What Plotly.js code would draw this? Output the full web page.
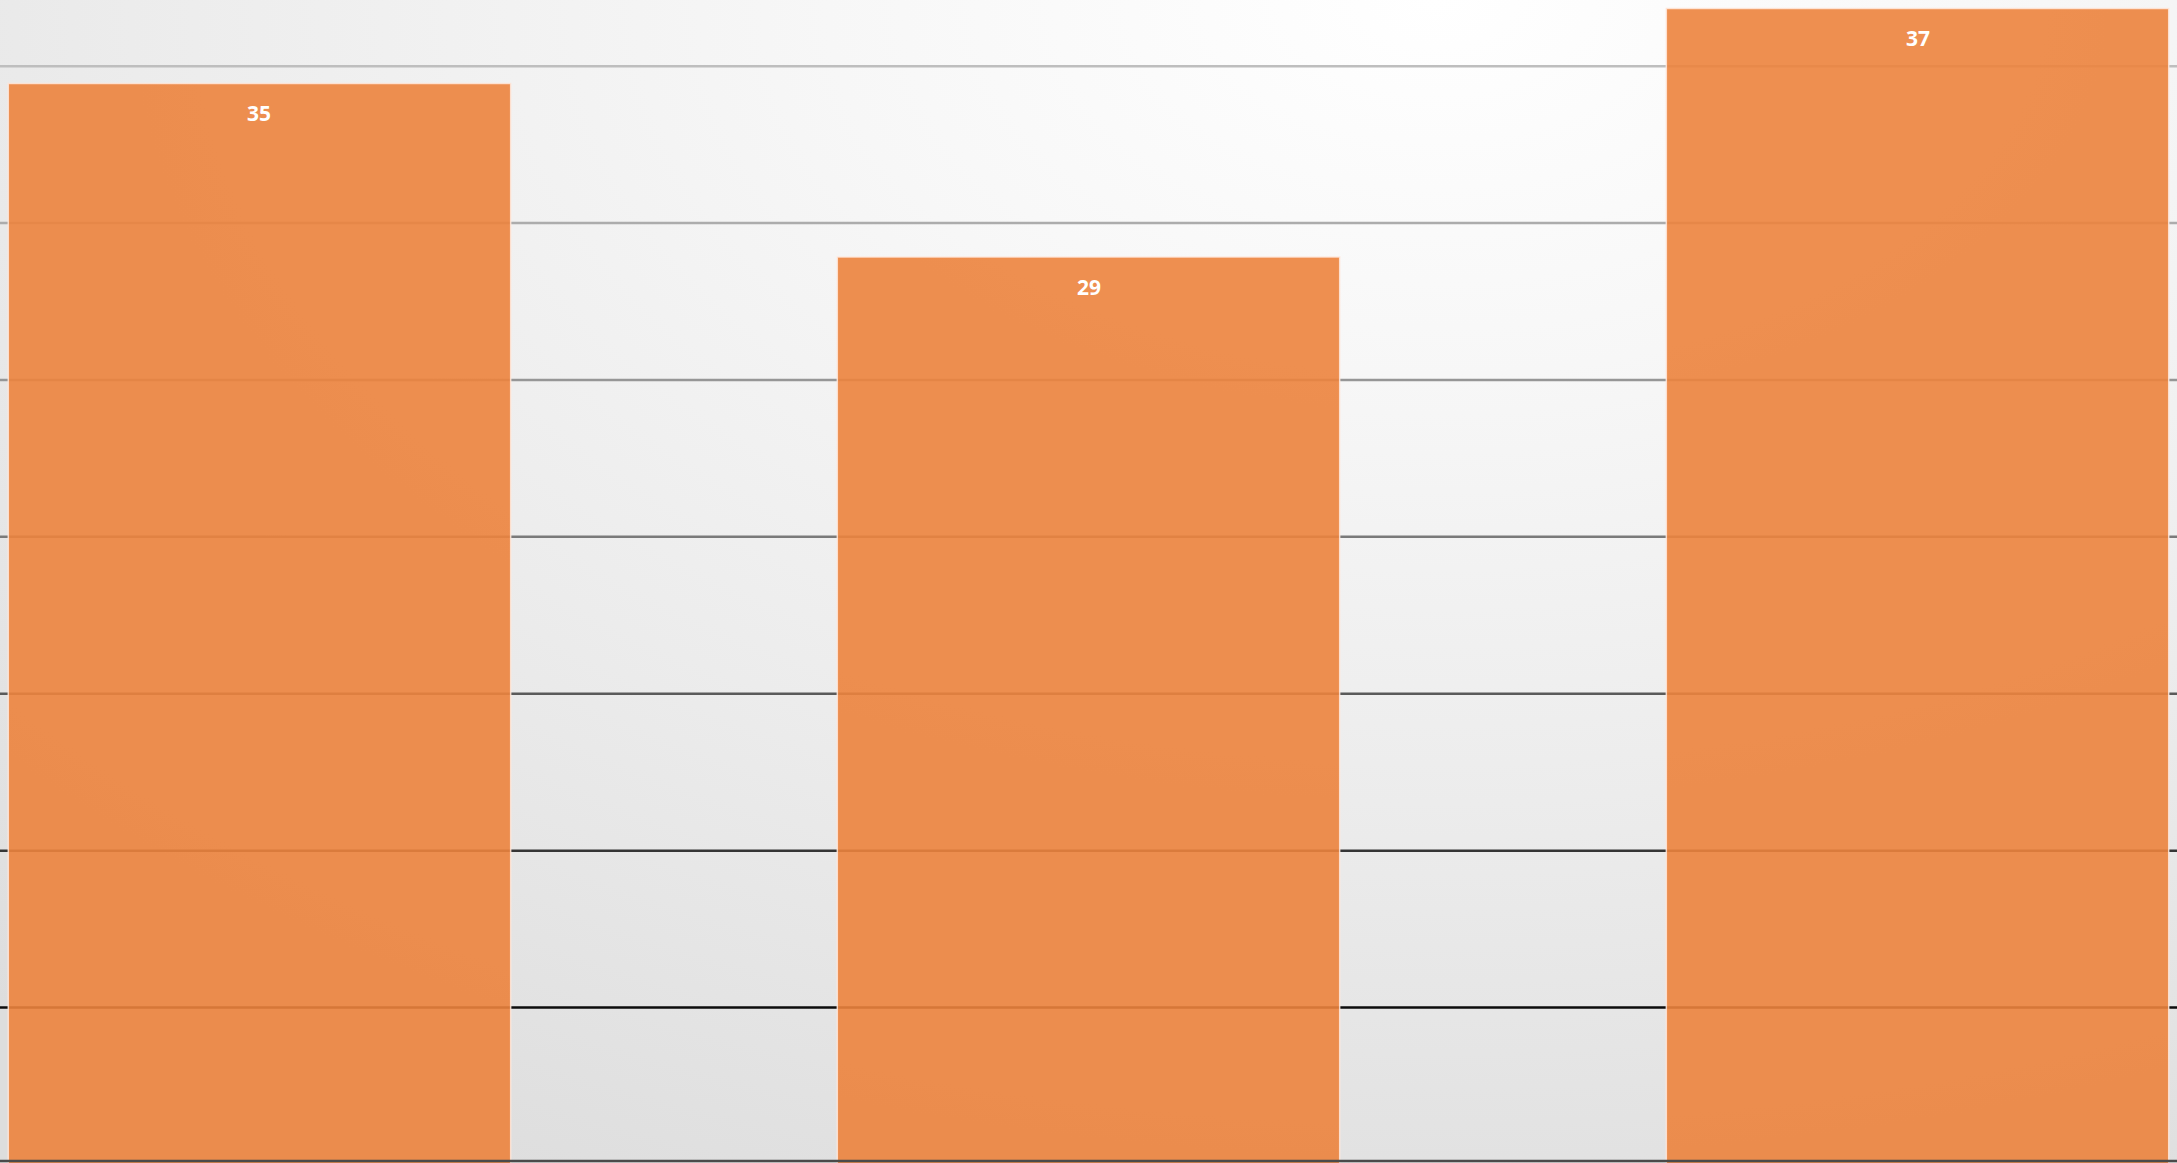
<!DOCTYPE html>
<html>
<head>
<meta charset="utf-8">
<script src="https://cdn.plot.ly/plotly-3.0.1.min.js"></script>
<style>
  html, body { margin: 0; padding: 0; overflow: hidden; }
  #chart {
    width: 2177px; height: 1163px;
    background: radial-gradient(ellipse 100% 115% at 66% 0%, #ffffff 0%, #f7f7f7 28%, #ececec 60%, #dddddd 100%);
  }
</style>
</head>
<body>
<div id="chart"></div>
<script>
// Data
const categories = ["A", "B", "C"];
const values = [34.45, 28.92, 36.84];
const labels = ["35", "29", "37"];
const gridValues = [5, 10, 15, 20, 25, 30, 35];
const gridColors = ["#0c0c0c", "#353535", "#5a5a5a", "#7a7a7a", "#969696", "#acacac", "#bebebe"];

const trace = {
  type: "bar",
  x: categories,
  y: values,
  marker: {
    color: "rgba(236,131,61,0.9)",
    line: { color: "rgba(255,232,220,0.85)", width: 1.5 }
  },
  hoverinfo: "none"
};

const shapes = gridValues.map((v, i) => ({
  type: "line", xref: "paper", x0: 0, x1: 1, yref: "y", y0: v, y1: v,
  line: { color: gridColors[i], width: 2.5 }, layer: "below"
}));
// bottom axis line
shapes.push({
  type: "line", xref: "paper", x0: 0, x1: 1, yref: "paper", y0: 0.0017, y1: 0.0017,
  line: { color: "#4a4a4a", width: 2.5 }, layer: "above"
});

const annotations = categories.map((c, i) => ({
  x: c, y: values[i], xref: "x", yref: "y",
  text: "<b>" + labels[i] + "</b>",
  showarrow: false, yanchor: "middle", yshift: -30,
  font: { family: "Open Sans, sans-serif", size: 21, color: "#ffffff" }
}));

const layout = {
  width: 2177, height: 1163,
  margin: { l: 0, r: 0, t: 0, b: 0, pad: 0 },
  paper_bgcolor: "rgba(0,0,0,0)",
  plot_bgcolor: "rgba(0,0,0,0)",
  showlegend: false,
  bargap: 0.394,
  xaxis: {
    type: "category",
    range: [-0.313, 2.313],
    showticklabels: false, ticks: "", showgrid: false, zeroline: false, showline: false
  },
  yaxis: {
    range: [0.045, 37.11],
    showticklabels: false, ticks: "", showgrid: false, zeroline: false, showline: false
  },
  shapes: shapes,
  annotations: annotations
};

Plotly.newPlot("chart", [trace], layout, { displayModeBar: false, staticPlot: true });
</script>
</body>
</html>
